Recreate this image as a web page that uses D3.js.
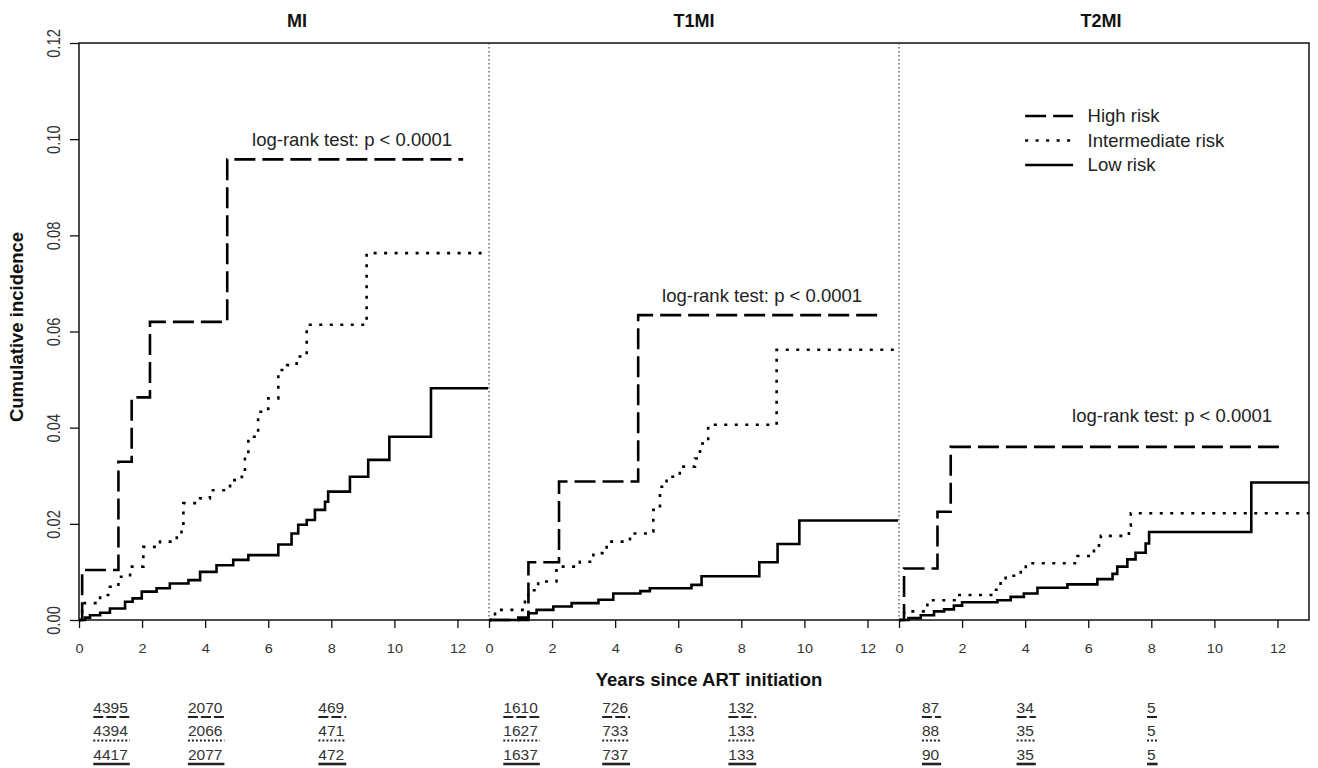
<!DOCTYPE html>
<html><head><meta charset="utf-8">
<script src="https://cdn.jsdelivr.net/npm/d3@7"></script>
<style>
body{margin:0;background:#fff}
svg{display:block}
text{font-family:"Liberation Sans",Arial,Helvetica,sans-serif;fill:#1a1a1a}
</style>
</head><body>
<svg id="chart" width="1318" height="768"></svg>
<script>
// ---------------- data ----------------
const panels = ["MI", "T1MI", "T2MI"];
const groups = ["High risk", "Intermediate risk", "Low risk"];
const xTickValues = [0, 2, 4, 6, 8, 10, 12];
const yTickValues = [0, 0.02, 0.04, 0.06, 0.08, 0.10, 0.12];
const riskTimes = [1, 4, 8];
const logRankLabel = "log-rank test: p < 0.0001";
const xTitle = "Years since ART initiation";
const yTitle = "Cumulative incidence";

// MI
const miHighT  = [0, 0.1, 1.25, 1.67, 2.25, 4.7, 12.18];
const miHighV  = [0, 0.0104, 0.0329, 0.0463, 0.062, 0.0958, 0.0958];
const miInterT = [0, 0.1, 0.67, 0.98, 1.25, 1.62, 2.04, 2.57, 3.1, 3.25, 3.31, 3.84, 4.15, 4.79, 5.16, 5.26, 5.37, 5.68, 6.0, 6.32, 6.6, 6.9, 7.22, 9.12, 12.95];
const miInterV = [0, 0.0035, 0.0052, 0.0069, 0.009, 0.0111, 0.0152, 0.0163, 0.0177, 0.0194, 0.0243, 0.0253, 0.027, 0.0291, 0.0298, 0.034, 0.0381, 0.0433, 0.0461, 0.052, 0.053, 0.0548, 0.0614, 0.0763, 0.0763];
const miLowT   = [0, 0.19, 0.35, 0.67, 0.98, 1.46, 1.7, 1.99, 2.46, 2.88, 3.47, 3.84, 4.36, 4.89, 5.37, 6.32, 6.74, 6.95, 7.22, 7.48, 7.8, 7.9, 8.59, 9.17, 9.84, 11.16, 12.97];
const miLowV   = [0, 0.0005, 0.001, 0.0015, 0.0024, 0.0038, 0.0045, 0.0059, 0.0066, 0.0076, 0.0083, 0.01, 0.0114, 0.0125, 0.0135, 0.0157, 0.018, 0.0198, 0.0208, 0.0229, 0.0246, 0.0267, 0.0298, 0.0333, 0.0381, 0.0482, 0.0482];

// T1MI
const t1HighT  = [0, 1.25, 2.22, 4.73, 12.39];
const t1HighV  = [0, 0.012, 0.0288, 0.0634, 0.0634];
const t1InterT = [0, 0.19, 1.14, 1.25, 1.56, 2.14, 2.88, 3.31, 3.73, 4.47, 5.16, 5.21, 5.42, 5.63, 6.05, 6.53, 6.69, 6.95, 9.12, 12.97];
const t1InterV = [0, 0.0021, 0.0042, 0.0062, 0.008, 0.0111, 0.0121, 0.0139, 0.0163, 0.018, 0.0184, 0.0229, 0.0277, 0.0298, 0.0319, 0.0336, 0.0367, 0.0406, 0.0562, 0.0562];
const t1LowT   = [0, 0.93, 1.25, 1.51, 2.04, 2.62, 3.47, 3.94, 4.8, 5.1, 6.42, 6.74, 8.57, 9.15, 9.84, 12.97];
const t1LowV   = [0, 0.0005, 0.0014, 0.0021, 0.0028, 0.0035, 0.0042, 0.0055, 0.006, 0.0066, 0.0073, 0.0091, 0.012, 0.0158, 0.0207, 0.0207];

// T2MI
const t2HighT  = [0, 0.16, 1.22, 1.64, 12.25];
const t2HighV  = [0, 0.0107, 0.0225, 0.036, 0.036];
const t2InterT = [0, 0.16, 0.9, 1.85, 3.01, 3.22, 3.38, 3.86, 4.02, 5.66, 6.18, 6.34, 6.4, 7.29, 7.35, 13];
const t2InterV = [0, 0.0018, 0.0041, 0.0052, 0.0063, 0.0081, 0.0092, 0.0103, 0.0118, 0.0133, 0.0144, 0.0159, 0.0175, 0.0196, 0.0222, 0.0222];
const t2LowT   = [0, 0.3, 0.69, 1.11, 1.43, 1.74, 2.0, 3.12, 3.54, 3.96, 4.39, 5.34, 6.29, 6.77, 6.92, 7.24, 7.5, 7.82, 7.93, 11.17, 13];
const t2LowV   = [0, 0.0004, 0.001, 0.0018, 0.0022, 0.003, 0.0037, 0.0041, 0.0048, 0.0055, 0.0067, 0.0074, 0.0085, 0.0096, 0.0111, 0.0126, 0.014, 0.0159, 0.0183, 0.0286, 0.0286];

// numbers at risk (rows: high, intermediate, low; columns: riskTimes)
const miAtRisk = [[4395, 2070, 469], [4394, 2066, 471], [4417, 2077, 472]];
const t1AtRisk = [[1610, 726, 132], [1627, 733, 133], [1637, 737, 133]];
const t2AtRisk = [[87, 34, 5], [88, 35, 5], [90, 35, 5]];

// log-rank annotation anchors (time, incidence), right-aligned
const logRankT = [11.83, 11.83, 11.83];
const logRankV = [0.0986, 0.0662, 0.0412];

// ---------------- assemble ----------------
const curves = [
  [[miHighT, miHighV], [miInterT, miInterV], [miLowT, miLowV]],
  [[t1HighT, t1HighV], [t1InterT, t1InterV], [t1LowT, t1LowV]],
  [[t2HighT, t2HighV], [t2InterT, t2InterV], [t2LowT, t2LowV]]
];
const atRisk = [miAtRisk, t1AtRisk, t2AtRisk];

// ---------------- layout / style ----------------
const L = 79, T = 43, B = 620, PW = 410;
const R = L + PW * panels.length;
const dashes = ["21,7", "3,7.5", null];
const lw = 2.6;
const svg = d3.select("#chart");

const y = d3.scaleLinear().domain([0, 0.12]).range([B, T]);
const xs = panels.map((p, i) => d3.scaleLinear().domain([0, 13]).range([L + i * PW, L + (i + 1) * PW]));

// frame
svg.append("rect").attr("x", L).attr("y", T).attr("width", R - L).attr("height", B - T)
  .attr("fill", "none").attr("stroke", "#111").attr("stroke-width", 1.5);
for (let i = 1; i < panels.length; i++) {
  svg.append("line").attr("x1", xs[i](0)).attr("x2", xs[i](0)).attr("y1", T).attr("y2", B)
    .attr("stroke", "#222").attr("stroke-width", 1).attr("stroke-dasharray", "1.5,2.5");
}

// y axis
const yAxis = svg.append("g").attr("transform", `translate(${L},0)`)
  .call(d3.axisLeft(y).tickValues(yTickValues).tickFormat(d3.format(".2f")).tickSize(9).tickPadding(0));
yAxis.select(".domain").remove();
yAxis.selectAll(".tick line").attr("stroke", "#111").attr("stroke-width", 1.3);
yAxis.selectAll(".tick text")
  .attr("x", null).attr("dy", null)
  .attr("transform", "translate(-19,0) rotate(-90) scale(0.82,1)")
  .attr("text-anchor", "middle")
  .style("font-size", "18px").style("fill", "#333");

// x axes
xs.forEach((x, i) => {
  const g = svg.append("g").attr("transform", `translate(0,${B})`)
    .call(d3.axisBottom(x).tickValues(xTickValues).tickSize(8).tickPadding(0));
  g.select(".domain").remove();
  g.selectAll(".tick line").attr("stroke", "#111").attr("stroke-width", 1.3);
  g.selectAll(".tick text").attr("y", 0).attr("dy", null)
    .attr("transform", "translate(0,33) scale(1,0.85)")
    .style("font-size", "14.5px").style("fill", "#333");
});

// curves
const line = d3.line().curve(d3.curveStepAfter);
curves.forEach((pc, i) => {
  const x = xs[i];
  pc.forEach(([tt, vv], g) => {
    const pts = tt.map((t, k) => [x(t), y(vv[k])]);
    svg.append("path").attr("d", line(pts)).attr("fill", "none")
      .attr("stroke", "#000").attr("stroke-width", lw)
      .attr("stroke-dasharray", dashes[g]).attr("stroke-linejoin", "miter");
  });
  // log-rank label
  svg.append("text").attr("x", x(logRankT[i])).attr("y", y(logRankV[i]))
    .attr("text-anchor", "end").style("font-size", "18.5px").style("fill", "#222")
    .text(logRankLabel);
  // panel title
  const titleOffset = [13, 0, -3][i];
  svg.append("text").attr("x", (x.range()[0] + x.range()[1]) / 2 + titleOffset).attr("y", 27)
    .attr("text-anchor", "middle").style("font-size", "18px").style("font-weight", "bold")
    .style("fill", "#111").text(panels[i]);
});

// legend (inside T2MI panel)
const lx = xs[2];
groups.forEach((g, k) => {
  const yy = 116 + k * 24.5;
  svg.append("line").attr("x1", lx(4.0)).attr("x2", lx(5.52)).attr("y1", yy).attr("y2", yy)
    .attr("stroke", "#000").attr("stroke-width", lw).attr("stroke-dasharray", dashes[k]);
  svg.append("text").attr("x", lx(5.98)).attr("y", yy).attr("dy", "0.35em")
    .style("font-size", "18.5px").style("fill", "#222").text(g);
});

// axis titles
svg.append("text").attr("x", 709).attr("y", 686).attr("text-anchor", "middle")
  .style("font-size", "18.5px").style("font-weight", "bold").style("fill", "#111").text(xTitle);
svg.append("text").attr("transform", "translate(23,327) rotate(-90)").attr("text-anchor", "middle")
  .style("font-size", "18.5px").style("font-weight", "bold").style("fill", "#111").text(yTitle);

// numbers at risk table
const rowBase = [712.5, 736, 759.5];
atRisk.forEach((tab, i) => {
  const x = xs[i];
  tab.forEach((row, r) => {
    row.forEach((n, c) => {
      const cx = x(riskTimes[c]);
      const t = svg.append("text").attr("x", cx).attr("y", rowBase[r]).attr("text-anchor", "middle")
        .style("font-size", "15.5px").style("fill", "#333").text(n);
      const w = t.node().getComputedTextLength();
      svg.append("line").attr("x1", cx - w / 2).attr("x2", cx + w / 2 + 2)
        .attr("y1", rowBase[r] + 4.5).attr("y2", rowBase[r] + 4.5)
        .attr("stroke", "#222").attr("stroke-width", r === 2 ? 2.6 : 2)
        .attr("stroke-dasharray", r === 0 ? "10,3" : (r === 1 ? "2,2" : null));
    });
  });
});
</script>
</body></html>
